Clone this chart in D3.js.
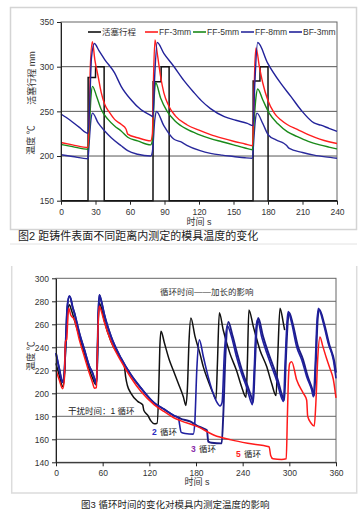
<!DOCTYPE html>
<html>
<head>
<meta charset="utf-8">
<script src="https://cdn.jsdelivr.net/npm/d3@7.9.0/dist/d3.min.js"></script>
<style>
  body { margin: 0; background: #fff; }
  svg { display: block; font-family: "Liberation Sans", "Noto Sans CJK SC", sans-serif; }
</style>
</head>
<body>
<svg id="fig" width="362" height="517"></svg>
<script>
// ---------- data: figure 2 (time s, value) ----------
const topXTicks = [0, 30, 60, 90, 120, 150, 180, 210, 240];
const topYTicks = [150, 200, 250, 300, 350];
const topNames = ['活塞行程', 'FF-3mm', 'FF-5mm', 'FF-8mm', 'BF-3mm'];

const pistonStroke = [[0,150],[23.5,150],[23.6,288],[30,288],[30.1,300],[37.5,300],[37.6,150],[80,150],[80.1,283],
  [87,283],[87.1,300],[94,300],[94.1,150],[167,150],[167.1,284],[173,284],[173.1,300],[180,300],[180.1,150],[240,150]];

const ff3 = [[0,215],[10,212.5],[23.5,209.5],[24.5,240],[25.5,300],[27.3,328],[29.4,308],[32.3,289],[35,271],[38,258],
  [42.3,248.5],[46.6,241],[52.3,235.5],[56.6,230],[58,224.5],[66.6,220.5],[78,217],[79.5,225],[80.5,290],[81.7,330],
  [83.7,315],[86.6,289],[89.4,271],[93.7,256],[99.4,245],[109.4,235],[120,229],[130,224],[140,220],[150,216.5],
  [160,213.5],[166.5,211.5],[167.5,250],[168.5,300],[169.6,321],[172.5,300],[175.4,282],[179.7,263],[185.5,248],
  [191,240.5],[197,235],[205,230],[215,224],[225,219],[233,216],[240,214]];

const ff5 = [[0,213],[10,210.5],[23.5,207.5],[24.5,225],[26,265],[27.4,278],[30.9,267],[35,252],[40.9,241],[46.6,233.5],
  [52.3,228],[58,221],[66.6,217],[78,212.5],[79.5,218],[81,265],[82.3,282],[86.6,265],[92.3,250],[99.4,239],
  [109.4,230],[120,224],[130,219.5],[140,216],[150,212.5],[160,209],[166.5,207],[167.5,230],[169.5,265],[171,275],
  [175.4,263],[181,248],[188.6,236],[197,227],[205,222],[215,216.5],[225,212.5],[233,210],[240,208]];

const ff8 = [[0,201.5],[10,199.5],[23.5,197],[24.5,215],[26,240],[27.4,248],[32.3,237],[38,228],[43.7,220.5],[52.3,211.5],
  [58,206],[66.6,202],[78,200],[79.5,205],[81.5,240],[82.9,250],[89.4,234],[98,219],[104,216],[109.4,212],[121,206],
  [130,203],[140,201],[150,199.5],[160,198],[166.5,197.5],[167.5,215],[169,240],[170.4,248],[175.4,236.5],
  [180.3,223.5],[187,218],[194,214],[196,212],[198.5,208.5],[210,204],[220,201],[230,199],[240,197.5]];

const bf3 = [[0,247],[8,240],[16,232],[23.5,225.5],[25,260],[26.5,310],[29,326],[33,318],[38,308],[46.6,293],[52.3,278],
  [60.9,263],[69.4,252],[78,245.5],[80,244],[81.5,290],[83.7,327],[89.4,315],[98,300.5],[106.6,285],[115,272],
  [122,262],[130,253],[142,244],[152,240],[162,236.5],[167,234],[168.5,280],[171,327],[179.7,304],[191,281.5],
  [200,266.5],[208.7,251.5],[220,237],[226,234.5],[233,231],[240,227.5]];

// ---------- data: figure 3 ----------
const botXTicks = [0, 60, 120, 180, 240, 300, 360];
const botYTicks = [140, 160, 180, 200, 220, 240, 260, 280, 300];

const blueShared = [[0,235],[4,222],[8.6,209.5],[10.7,218],[12.5,245],[14.5,275],[17.1,284.5],[19.5,281],[21,276],
  [23.6,270],[30,252.5],[36.4,238],[42.9,223.5],[47.1,217.5],[49.3,213],[51.8,208],[53,225],[54.2,265],[55.7,285.5],
  [58,281],[62.1,268.5],[70.7,249.5],[83.6,230.5],[96.4,216],[109.3,204.5],[126.4,191.5],[139.3,186],[152,180.5],[157,179]];

const twoCycleTail = [[161,166],[166,165],[176.5,164.5],[178.5,175],[181,220],[184.3,246.5],[189.4,232],[195.8,214],
  [202,200],[206.6,192.5],[211,189],[213.5,192],[216.5,235],[220,259],[225.8,249],[232,232],[238.7,217],[245,205.5],
  [250.5,193],[252.5,190],[254.5,215],[257,255],[259,264],[264.5,249],[271,235],[277.3,223],[283.7,211],[290,196],
  [292.5,193],[294.5,225],[297,262],[298.6,271],[303,261],[309.4,240.5],[316,229],[322.3,214.5],[328.7,203],[331,197],
  [333,220],[335.5,262],[337.3,274],[343.7,261],[350,243.5],[356.6,229],[360,213]];

const threeCycleTail = [[160,178],[172.3,175.5],[181,172],[189.4,169.5],[194,168],[195.8,158],[200,157],[213,156.5],
  [215,180],[218,235],[221.5,262],[227,250],[233.5,233],[240,218],[246.5,206],[252,195],[253.5,192],[255.5,220],
  [258,256],[260,265.5],[266,250],[272.5,236],[279,224],[285,212],[291,197.5],[293.5,194],[295.5,228],[298,262],
  [299.8,270],[304.5,260],[311,241],[317.5,229.5],[323.5,215],[329.5,203.5],[332,198],[334,225],[336.5,265],
  [338.5,273],[345,260],[351.5,242],[358,227],[360,218]];

const oneCycle = [[0,226],[4,216],[8.6,206],[10.7,214],[12.5,240],[14.5,268],[17.1,277],[20,272],[23.6,264],[30,249.5],
  [36.4,235],[42.9,220.5],[47.1,213],[51.4,207.5],[53,222],[54.2,262],[55.7,278.5],[58,275],[62.1,263],[70.7,245],
  [83.6,229.5],[87.9,223.5],[89.6,214],[91.7,207],[96.4,200],[105,193],[111.4,190],[113,185],[117.9,181],[122,176],
  [126.4,173.5],[130,174],[132,200],[133.5,240],[135,254],[139.3,244],[145.7,229],[150.8,220],[157.3,208.5],
  [163.7,197],[167,189.5],[169,205],[171,245],[173.4,265.5],[178.7,249.5],[185,234.7],[189.4,223],[195,212],[202,200],
  [205.7,195],[207.5,225],[210,270],[215,255],[223.7,234.5],[232,220],[238.7,205.5],[244.3,196.5],[246,225],
  [248,272.5],[253.7,258],[262.3,237.5],[271,223],[277.3,208.5],[282.9,198],[285,230],[288,274],[292.3,261],[294,255]];

const fiveCycle = [[0,220],[4,212],[8.6,204],[10.7,212],[12.2,245],[13.8,247],[15,262],[16.3,274],[19,268],[23.6,264],
  [30,246.5],[36.4,232],[42.9,217.5],[47.1,209],[49.3,204.5],[52,205],[53,230],[54.5,265],[55.7,276],[58,272],
  [62.1,262],[70.7,245],[83.6,228],[96.4,213.5],[109.3,201.5],[126.4,190],[139.3,184],[152,178.5],[160.7,176],
  [182,171],[203.5,163.5],[225,159.5],[246.4,156.5],[274,153.5],[276,146],[279,143],[290,142.5],[296,143],
  [297.5,180],[299,215],[300.5,226],[303,227.5],[309.5,211.5],[318,200],[322.3,194],[323.6,180],[328,174],
  [332,171.5],[334,190],[336.5,230],[339.4,249],[343,241],[348,230],[352,222],[356.6,212],[360,196]];

const svg = d3.select('#fig');

function styleAxis(g) {
  g.select('.domain').attr('stroke', '#222');
  g.selectAll('.tick line').attr('stroke', '#222');
  g.selectAll('.tick text').attr('fill', '#333').attr('font-size', 8.5)
    .attr('font-family', '"Liberation Sans", sans-serif');
}

// ================= Figure 2 =================
svg.append('rect').attr('x', 10.5).attr('y', 7.5).attr('width', 346).attr('height', 222)
  .attr('fill', 'none').attr('stroke', '#d4d4d4').attr('stroke-width', 1.5);

const x1 = d3.scaleLinear().domain([0, 240]).range([61, 337]);
const y1 = d3.scaleLinear().domain([150, 350]).range([200.7, 22]);

svg.append('g').selectAll('line').data([200, 250, 300]).join('line')
  .attr('x1', x1(0)).attr('x2', x1(240)).attr('y1', d => y1(d)).attr('y2', d => y1(d))
  .attr('stroke', '#555').attr('stroke-width', 1);
svg.append('rect').attr('x', x1(0)).attr('y', y1(350)).attr('width', x1(240) - x1(0)).attr('height', y1(150) - y1(350))
  .attr('fill', 'none').attr('stroke', '#666');

const line1 = d3.line().x(d => x1(d[0])).y(d => y1(d[1])).curve(d3.curveMonotoneX);
const topSeries = [
  { data: ff8, color: '#2a2a9c' },
  { data: ff5, color: '#1a8a1a' },
  { data: ff3, color: '#ff1e1e' },
  { data: bf3, color: '#22229a' }
];
svg.append('path').attr('d', d3.line().x(d => x1(d[0])).y(d => y1(d[1]))(pistonStroke))
  .attr('fill', 'none').attr('stroke', '#111').attr('stroke-width', 1.5);
topSeries.forEach(s => {
  svg.append('path').attr('d', line1(s.data)).attr('fill', 'none')
    .attr('stroke', s.color).attr('stroke-width', 1.4).attr('stroke-linejoin', 'round');
});

svg.append('g').attr('transform', `translate(0,${y1(150)})`)
  .call(d3.axisBottom(x1).tickValues(topXTicks).tickSize(4).tickSizeOuter(0).tickPadding(4)).call(styleAxis);
svg.append('g').attr('transform', `translate(${x1(0)},0)`)
  .call(d3.axisLeft(y1).tickValues(topYTicks).tickSize(4).tickSizeOuter(0).tickPadding(3)).call(styleAxis);

// legend
const legColors = ['#111', '#ff1e1e', '#1a8a1a', '#2a2a9c', '#22229a'];
const legX = [88, 145, 193, 241, 289];
const leg = svg.append('g').attr('font-size', 8.5).attr('fill', '#333');
topNames.forEach((n, i) => {
  leg.append('line').attr('x1', legX[i]).attr('x2', legX[i] + 13).attr('y1', 32).attr('y2', 32)
    .attr('stroke', legColors[i]).attr('stroke-width', 1.6);
  leg.append('text').attr('x', legX[i] + 14).attr('y', 35).text(n);
});

svg.append('text').attr('transform', 'translate(35,78) rotate(-90)').attr('text-anchor', 'middle')
  .attr('font-size', 9).attr('fill', '#333').text('活塞行程  mm');
svg.append('text').attr('transform', 'translate(34,140) rotate(-90)').attr('text-anchor', 'middle')
  .attr('font-size', 9).attr('fill', '#333').text('温度   ℃');
svg.append('text').attr('x', 199).attr('y', 225).attr('text-anchor', 'middle')
  .attr('font-size', 9).attr('fill', '#333').text('时间 s');
svg.append('text').attr('x', 18).attr('y', 240).attr('font-size', 11).attr('fill', '#222')
  .text('图2 距铸件表面不同距离内测定的模具温度的变化');
svg.append('line').attr('x1', 10).attr('x2', 357).attr('y1', 244).attr('y2', 244).attr('stroke', '#e2e2e2');

// ================= Figure 3 =================
svg.append('path').attr('d', 'M11.7,266V493H356.7V266').attr('fill', 'none')
  .attr('stroke', '#dcdcdc').attr('stroke-width', 1.5);

const x2 = d3.scaleLinear().domain([0, 360]).range([56, 336]);
const y2 = d3.scaleLinear().domain([140, 300]).range([462.3, 278.3]);

svg.append('g').selectAll('line').data(botYTicks.slice(1, -1)).join('line')
  .attr('x1', x2(0)).attr('x2', x2(360)).attr('y1', d => y2(d)).attr('y2', d => y2(d))
  .attr('stroke', '#666').attr('stroke-width', 1);
svg.append('rect').attr('x', x2(0)).attr('y', y2(300)).attr('width', x2(360) - x2(0)).attr('height', y2(140) - y2(300))
  .attr('fill', 'none').attr('stroke', '#666');

const line2 = d3.line().x(d => x2(d[0])).y(d => y2(d[1])).curve(d3.curveMonotoneX);
const botSeries = [
  { data: oneCycle, color: '#111', w: 1.5 },
  { data: blueShared.concat(threeCycleTail), color: '#1c1c84', w: 1.9 },
  { data: blueShared.concat(twoCycleTail), color: '#2020a0', w: 1.6 },
  { data: fiveCycle, color: '#ff1a1a', w: 1.5 }
];
botSeries.forEach(s => {
  svg.append('path').attr('d', line2(s.data)).attr('fill', 'none')
    .attr('stroke', s.color).attr('stroke-width', s.w).attr('stroke-linejoin', 'round');
});

svg.append('g').attr('transform', `translate(0,${y2(140)})`)
  .call(d3.axisBottom(x2).tickValues(botXTicks).tickSize(4).tickSizeOuter(0).tickPadding(4)).call(styleAxis);
svg.append('g').attr('transform', `translate(${x2(0)},0)`)
  .call(d3.axisLeft(y2).tickValues(botYTicks).tickSize(4).tickSizeOuter(0).tickPadding(3)).call(styleAxis);

svg.append('text').attr('x', 160).attr('y', 295).attr('font-size', 8.5).attr('fill', '#333')
  .text('循环时间——加长的影响');
svg.append('text').attr('transform', 'translate(34,356) rotate(-90)').attr('text-anchor', 'middle')
  .attr('font-size', 9).attr('fill', '#333').text('温度 ℃');
svg.append('text').attr('x', 197).attr('y', 485).attr('text-anchor', 'middle')
  .attr('font-size', 9).attr('fill', '#333').text('时间 s');

const notes = svg.append('g').attr('font-size', 8.5).attr('fill', '#222');
notes.append('text').attr('x', 68).attr('y', 414).text('干扰时间：1 循环');
[['2', '#2a2ac0', 152, 435], ['3', '#8a2aa8', 191, 451.5], ['5', '#ff2020', 236, 456.5]].forEach(([n, c, x, y]) => {
  notes.append('text').attr('x', x).attr('y', y).attr('fill', c).attr('font-weight', 'bold').text(n);
  notes.append('text').attr('x', x + 8).attr('y', y).text('循环');
});

svg.append('text').attr('x', 81).attr('y', 508).attr('font-size', 9.5).attr('fill', '#222')
  .text('图3  循环时间的变化对模具内测定温度的影响');
</script>
</body>
</html>
